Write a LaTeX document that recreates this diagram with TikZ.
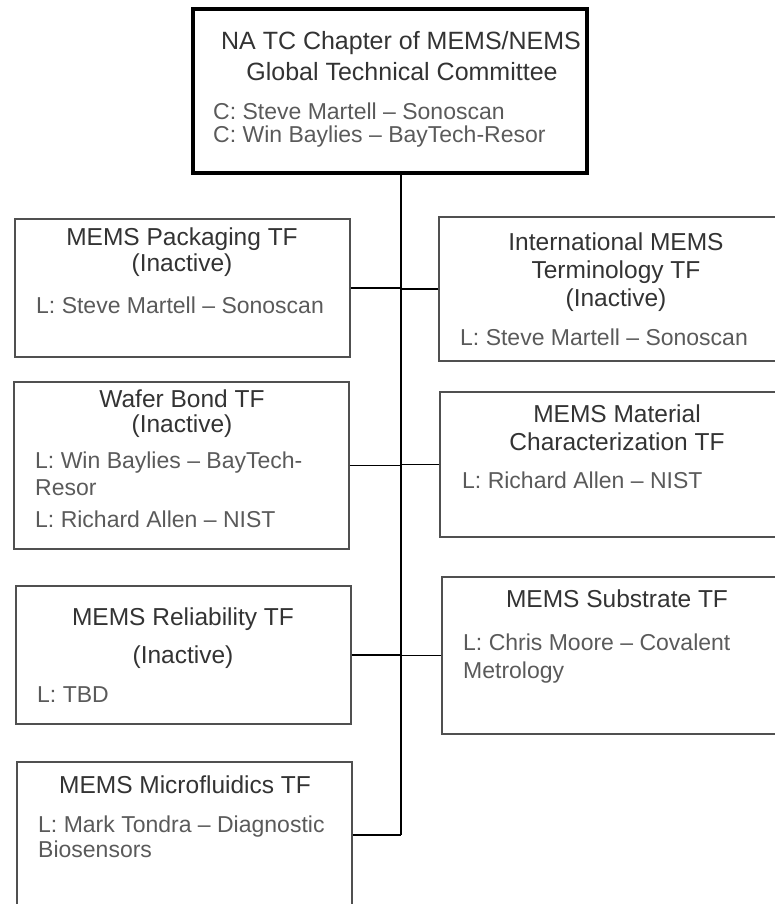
\documentclass[tikz,border=0pt]{standalone}
\usepackage{fontspec}
\setmainfont{Liberation Sans}
\definecolor{ttlc}{HTML}{333333}
\definecolor{bdyc}{HTML}{5A5A5A}
\definecolor{boxc}{HTML}{505050}
\begin{document}
\begin{tikzpicture}[x=1pt,y=-1pt,
  tfbox/.style={draw=boxc, line width=1.3pt, rectangle, inner sep=0pt},
  topbox/.style={draw=black, line width=3.5pt, rectangle, inner sep=0pt},
  ttl/.style={anchor=base, inner sep=0pt, text=ttlc, font=\fontsize{24.5}{28}\selectfont},
  bigttl/.style={anchor=base, inner sep=0pt, text=ttlc, font=\fontsize{25}{29}\selectfont},
  bdy/.style={anchor=base west, inner sep=0pt, text=bdyc, font=\fontsize{23}{27}\selectfont},
  conn/.style={draw=black, line width=1.3pt}]
\path[use as bounding box] (0,0) rectangle (775,904);
\begin{scope}
\clip (0,0) rectangle (775,904);
% boxes
\node[topbox, minimum width=394pt, minimum height=164pt] (top) at (390,91) {};
\node[tfbox, minimum width=335pt, minimum height=138pt] (pack) at (182.5,288) {};
\node[tfbox, minimum width=335pt, minimum height=167pt] (wafer) at (181.5,465.5) {};
\node[tfbox, minimum width=335pt, minimum height=138pt] (rel) at (183.5,655) {};
\node[tfbox, minimum width=335pt, minimum height=146pt] (micro) at (184.5,835) {};
\node[tfbox, minimum width=355pt, minimum height=144pt] (term) at (616.5,289) {};
\node[tfbox, minimum width=354pt, minimum height=145pt] (mat) at (617,464.5) {};
\node[tfbox, minimum width=352pt, minimum height=157pt] (sub) at (618,655.5) {};
% connectors
\coordinate (spine) at (401,835);
\draw[conn] (top.south -| spine) -- (spine);
\draw[conn] (pack.east) -- (pack.east -| spine);
\draw[conn] (wafer.east) -- (wafer.east -| spine);
\draw[conn] (rel.east) -- (rel.east -| spine);
\draw[conn] (micro.east) -- (spine);
\draw[conn] (term.west) -- (term.west -| spine);
\draw[conn] (mat.west) -- (mat.west -| spine);
\draw[conn] (sub.west) -- (sub.west -| spine);
% top texts
\node[bigttl] (topT1) at (401,50) {NA TC Chapter of MEMS/NEMS};
\node[bigttl] (topT2) at (402,81) {Global Technical Committee};
\node[bdy] (topB1) at (213,120) {C: Steve Martell – Sonoscan};
\node[bdy] (topB2) at (213,143) {C: Win Baylies – BayTech-Resor};
% packaging
\node[ttl] (packT1) at (182,245) {MEMS Packaging TF};
\node[ttl] (packT2) at (182,271) {(Inactive)};
\node[bdy] (packB1) at (36,313) {L: Steve Martell – Sonoscan};
% wafer
\node[ttl] (waferT1) at (182,407) {Wafer Bond TF};
\node[ttl] (waferT2) at (182,432) {(Inactive)};
\node[bdy] (waferB1) at (35,468) {L: Win Baylies – BayTech-};
\node[bdy] (waferB2) at (35,495) {Resor};
\node[bdy] (waferB3) at (35,527) {L: Richard Allen – NIST};
% reliability
\node[ttl] (relT1) at (183,625) {MEMS Reliability TF};
\node[ttl] (relT2) at (183,663) {(Inactive)};
\node[bdy] (relB1) at (37,702) {L: TBD};
% microfluidics
\node[ttl] (microT1) at (185,793) {MEMS Microfluidics TF};
\node[bdy] (microB1) at (38,832) {L: Mark Tondra – Diagnostic};
\node[bdy] (microB2) at (38,857) {Biosensors};
% terminology
\node[ttl] (termT1) at (616,250) {International MEMS};
\node[ttl] (termT2) at (616,278) {Terminology TF};
\node[ttl] (termT3) at (616,306) {(Inactive)};
\node[bdy] (termB1) at (460,345) {L: Steve Martell – Sonoscan};
% material
\node[ttl] (matT1) at (617,422) {MEMS Material};
\node[ttl] (matT2) at (617,450) {Characterization TF};
\node[bdy] (matB1) at (462,488) {L: Richard Allen – NIST};
% substrate
\node[ttl] (subT1) at (617,607) {MEMS Substrate TF};
\node[bdy] (subB1) at (463,650) {L: Chris Moore – Covalent};
\node[bdy] (subB2) at (463,678) {Metrology};
\end{scope}
\end{tikzpicture}
\end{document}
